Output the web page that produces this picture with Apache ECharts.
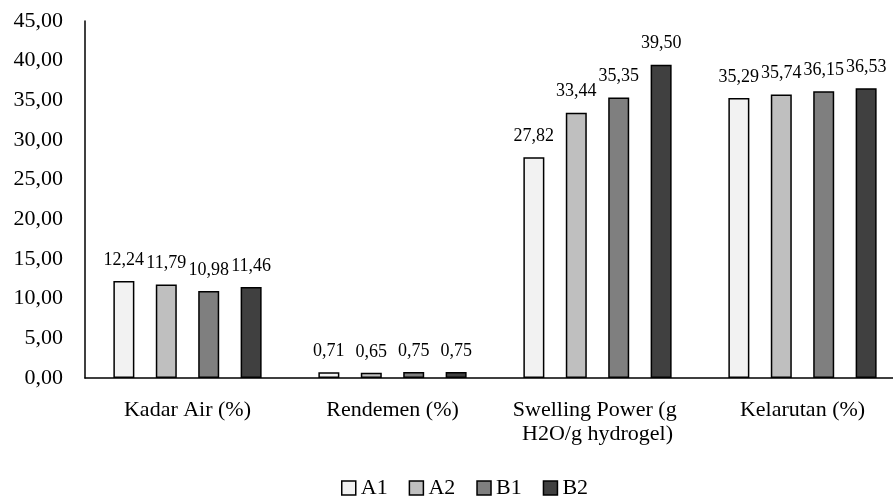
<!DOCTYPE html>
<html>
<head>
<meta charset="utf-8">
<style>
  html, body { margin: 0; padding: 0; background: #ffffff; }
  #chart { width: 893px; height: 496px; }
</style>
<script src="https://cdn.jsdelivr.net/npm/echarts@6/dist/echarts.min.js"></script>
</head>
<body>
<div id="chart"></div>
<script>
// Hydrogel characterisation results per treatment
const categories = ['Kadar Air (%)', 'Rendemen (%)', 'Swelling Power (g H2O/g hydrogel)', 'Kelarutan (%)'];
const seriesNames = ['A1', 'A2', 'B1', 'B2'];
const valuesA1 = [12.24, 0.71, 27.82, 35.29];
const valuesA2 = [11.79, 0.65, 33.44, 35.74];
const valuesB1 = [10.98, 0.75, 35.35, 36.15];
const valuesB2 = [11.46, 0.75, 39.50, 36.53];
const yTicks = { min: 0, max: 45, interval: 5 };

const seriesValues = [valuesA1, valuesA2, valuesB1, valuesB2];
const fills = ['#f2f2f2', '#bfbfbf', '#7f7f7f', '#404040'];
const FONT = '"Liberation Serif", "Times New Roman", serif';
const fmt = v => Number(v).toFixed(2).replace('.', ',');

const chart = echarts.init(document.getElementById('chart'), null, { renderer: 'canvas' });

chart.setOption({
  animation: false,
  backgroundColor: '#ffffff',
  textStyle: { fontFamily: FONT, color: '#000' },
  // plot area runs past the right edge of the canvas
  grid: { left: 85, top: 21, width: 820, bottom: 118, containLabel: false, outerBoundsMode: 'none' },
  legend: {
    data: seriesNames,
    top: 472,
    left: 336,
    icon: 'rect',
    itemWidth: 14,
    itemHeight: 14,
    itemGap: 21,
    itemStyle: { borderColor: '#000', borderWidth: 1.5 },
    textStyle: { fontFamily: FONT, fontSize: 22, color: '#000', padding: [0, 0, 0, 0] }
  },
  xAxis: {
    type: 'category',
    data: categories,
    axisLine: { show: true, lineStyle: { color: '#000', width: 1.5 } },
    axisTick: { show: false },
    axisLabel: {
      fontFamily: FONT, fontSize: 22, color: '#000', margin: 20,
      width: 185, overflow: 'break', lineHeight: 24, interval: 0
    },
    splitLine: { show: false }
  },
  yAxis: {
    type: 'value',
    min: yTicks.min,
    max: yTicks.max,
    interval: yTicks.interval,
    axisLine: { show: true, lineStyle: { color: '#000', width: 1.5 } },
    axisTick: { show: false },
    splitLine: { show: false },
    axisLabel: { fontFamily: FONT, fontSize: 22, color: '#000', margin: 22, formatter: fmt }
  },
  series: seriesNames.map((name, i) => ({
    name,
    type: 'bar',
    data: seriesValues[i],
    barWidth: 21,
    barGap: '102%',
    itemStyle: { color: fills[i], borderColor: '#000', borderWidth: 1.5 },
    label: {
      show: true,
      position: 'top',
      distance: 12,
      fontFamily: FONT,
      fontSize: 18,
      color: '#000',
      formatter: p => fmt(p.value)
    }
  }))
});
</script>
</body>
</html>
